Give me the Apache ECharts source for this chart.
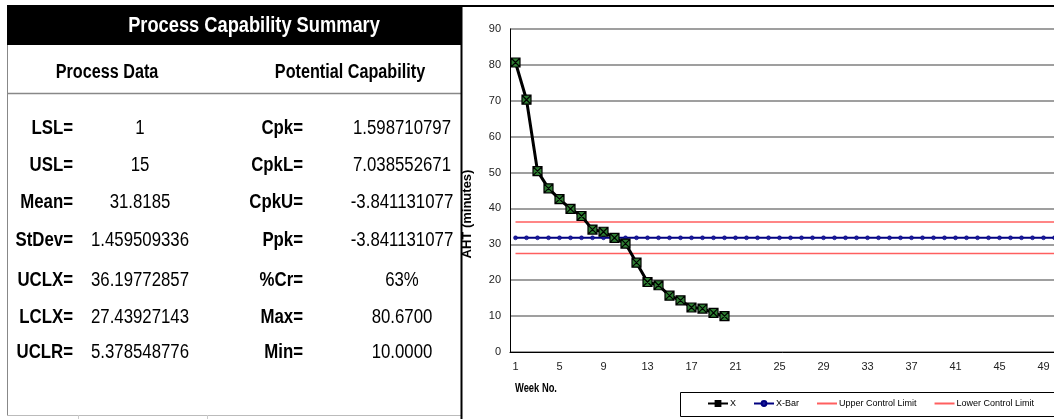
<!DOCTYPE html>
<html>
<head>
<meta charset="utf-8">
<script src="https://cdn.jsdelivr.net/npm/echarts@6/dist/echarts.min.js"></script>
<style>
html,body{margin:0;padding:0;background:#fff;}
#main{width:1054px;height:419px;}
</style>
</head>
<body>
<div id="main"></div>
<script>
// ---------- data ----------
const weeks = ['1','2','3','4','5','6','7','8','9','10','11','12','13','14','15','16','17','18','19','20',
  '21','22','23','24','25','26','27','28','29','30','31','32','33','34','35','36','37','38','39','40',
  '41','42','43','44','45','46','47','48','49','50'];
const xValues = [80.67, 70.3, 50.4, 45.6, 42.6, 39.9, 37.9, 34.1, 33.5, 31.8,
  30.2, 24.9, 19.5, 18.6, 15.7, 14.4, 12.4, 12.1, 10.9, 10.0];
const xBarValues = [31.8185,31.8185,31.8185,31.8185,31.8185,31.8185,31.8185,31.8185,31.8185,31.8185,
  31.8185,31.8185,31.8185,31.8185,31.8185,31.8185,31.8185,31.8185,31.8185,31.8185,
  31.8185,31.8185,31.8185,31.8185,31.8185,31.8185,31.8185,31.8185,31.8185,31.8185,
  31.8185,31.8185,31.8185,31.8185,31.8185,31.8185,31.8185,31.8185,31.8185,31.8185,
  31.8185,31.8185,31.8185,31.8185,31.8185,31.8185,31.8185,31.8185,31.8185,31.8185];
const uclValues = [36.1977,36.1977,36.1977,36.1977,36.1977,36.1977,36.1977,36.1977,36.1977,36.1977,
  36.1977,36.1977,36.1977,36.1977,36.1977,36.1977,36.1977,36.1977,36.1977,36.1977,
  36.1977,36.1977,36.1977,36.1977,36.1977,36.1977,36.1977,36.1977,36.1977,36.1977,
  36.1977,36.1977,36.1977,36.1977,36.1977,36.1977,36.1977,36.1977,36.1977,36.1977,
  36.1977,36.1977,36.1977,36.1977,36.1977,36.1977,36.1977,36.1977,36.1977,36.1977];
const lclValues = [27.4393,27.4393,27.4393,27.4393,27.4393,27.4393,27.4393,27.4393,27.4393,27.4393,
  27.4393,27.4393,27.4393,27.4393,27.4393,27.4393,27.4393,27.4393,27.4393,27.4393,
  27.4393,27.4393,27.4393,27.4393,27.4393,27.4393,27.4393,27.4393,27.4393,27.4393,
  27.4393,27.4393,27.4393,27.4393,27.4393,27.4393,27.4393,27.4393,27.4393,27.4393,
  27.4393,27.4393,27.4393,27.4393,27.4393,27.4393,27.4393,27.4393,27.4393,27.4393];
const seriesNames = ['X', 'X-Bar', 'Upper Control Limit', 'Lower Control Limit'];

const tableTitle = 'Process Capability Summary';
const tableHeaders = ['Process Data', 'Potential Capability'];
const leftLabels = ['LSL=', 'USL=', 'Mean=', 'StDev=', 'UCLX=', 'LCLX=', 'UCLR='];
const leftValues = ['1', '15', '31.8185', '1.459509336', '36.19772857', '27.43927143', '5.378548776'];
const rightLabels = ['Cpk=', 'CpkL=', 'CpkU=', 'Ppk=', '%Cr=', 'Max=', 'Min='];
const rightValues = ['1.598710797', '7.038552671', '-3.841131077', '-3.841131077', '63%', '80.6700', '10.0000'];
const yAxisTitle = 'AHT (minutes)';
const xAxisTitle = 'Week No.';

// ---------- layout ----------
const SANS = '"Liberation Sans", Arial, sans-serif';
const rowY = [128, 165, 202, 240, 280, 317, 352];
const SX = 0.84; // horizontal squeeze to mimic a narrow face

const graphics = [];
// title band
graphics.push({type:'rect', shape:{x:7, y:5, width:455, height:40}, style:{fill:'#000'}, z:1});
graphics.push({type:'line', shape:{x1:7, y1:6, x2:1054, y2:6}, style:{stroke:'#000', lineWidth:2}, z:1});
graphics.push({type:'text', x:254, y:26, scaleX:0.83, style:{text:tableTitle, fill:'#fff', font:'bold 22px ' + SANS, align:'center', verticalAlign:'middle'}, z:2});
// table borders
graphics.push({type:'line', shape:{x1:7.5, y1:45, x2:7.5, y2:415}, style:{stroke:'#888', lineWidth:1}, z:1});
graphics.push({type:'line', shape:{x1:7, y1:93.5, x2:461, y2:93.5}, style:{stroke:'#888', lineWidth:1.5}, z:1});
graphics.push({type:'line', shape:{x1:7, y1:415.5, x2:461, y2:415.5}, style:{stroke:'#bbb', lineWidth:1}, z:1});
graphics.push({type:'line', shape:{x1:78.5, y1:415, x2:78.5, y2:419}, style:{stroke:'#ccc', lineWidth:1}, z:1});
graphics.push({type:'line', shape:{x1:207.5, y1:415, x2:207.5, y2:419}, style:{stroke:'#ccc', lineWidth:1}, z:1});
graphics.push({type:'line', shape:{x1:461.5, y1:5, x2:461.5, y2:419}, style:{stroke:'#000', lineWidth:2}, z:1});
// headers
graphics.push({type:'text', x:107, y:72, scaleX:0.81, style:{text:tableHeaders[0], fill:'#000', font:'bold 20px ' + SANS, align:'center', verticalAlign:'middle'}, z:2});
graphics.push({type:'text', x:350, y:72, scaleX:0.81, style:{text:tableHeaders[1], fill:'#000', font:'bold 20px ' + SANS, align:'center', verticalAlign:'middle'}, z:2});
// rows
for (let i = 0; i < leftLabels.length; i++) {
  graphics.push({type:'text', x:73, y:rowY[i], scaleX:SX, style:{text:leftLabels[i], fill:'#000', font:'bold 20px ' + SANS, align:'right', verticalAlign:'middle'}, z:2});
  graphics.push({type:'text', x:140, y:rowY[i], scaleX:SX, style:{text:leftValues[i], fill:'#000', font:'20px ' + SANS, align:'center', verticalAlign:'middle'}, z:2});
  graphics.push({type:'text', x:303, y:rowY[i], scaleX:SX, style:{text:rightLabels[i], fill:'#000', font:'bold 20px ' + SANS, align:'right', verticalAlign:'middle'}, z:2});
  graphics.push({type:'text', x:402, y:rowY[i], scaleX:SX, style:{text:rightValues[i], fill:'#000', font:'20px ' + SANS, align:'center', verticalAlign:'middle'}, z:2});
}
// axis titles
graphics.push({type:'text', x:467, y:214, rotation:Math.PI/2, style:{text:yAxisTitle, fill:'#000', font:'bold 13px ' + SANS, align:'center', verticalAlign:'middle'}, z:2});
graphics.push({type:'text', x:515, y:388, scaleX:0.72, style:{text:xAxisTitle, fill:'#000', font:'bold 13px ' + SANS, align:'left', verticalAlign:'middle'}, z:2});
// legend box
graphics.push({type:'rect', shape:{x:680.5, y:392.5, width:380, height:24}, style:{fill:'#fff', stroke:'#000', lineWidth:1}, z:0});

const markerPath = 'path://M0,0L10,0L10,10L0,10Z M0,0L10,10 M10,0L0,10';

const chart = echarts.init(document.getElementById('main'), null, {renderer:'canvas'});
chart.setOption({
  backgroundColor: '#fff',
  animation: false,
  grid: {left: 510, top: 29, width: 550, bottom: 67, containLabel: false, outerBoundsMode: 'none'},
  legend: {
    data: [
      {name: seriesNames[0]},
      {name: seriesNames[1]},
      {name: seriesNames[2], itemStyle: {opacity: 0}},
      {name: seriesNames[3], itemStyle: {opacity: 0}}
    ],
    left: 707, top: 399, width: 360, padding: 0,
    itemWidth: 20, itemHeight: 6, itemGap: 17,
    textStyle: {fontFamily: SANS, fontSize: 9, color: '#000', padding: [0, 0, 0, -3]},
    selectedMode: false
  },
  xAxis: {
    type: 'category', data: weeks, boundaryGap: true,
    axisLine: {lineStyle: {color: '#000', width: 1}},
    axisTick: {interval: 1, length: 4, lineStyle: {color: '#000'}},
    axisLabel: {interval: 3, margin: 9, fontFamily: SANS, fontSize: 11, color: '#222'},
    splitLine: {show: false}
  },
  yAxis: {
    type: 'value', min: 0, max: 90, interval: 10,
    axisLine: {show: true, lineStyle: {color: '#000', width: 1}},
    axisTick: {show: false},
    axisLabel: {margin: 9, fontFamily: SANS, fontSize: 11, color: '#222'},
    splitLine: {lineStyle: {color: '#7f7f7f', width: 1.5}}
  },
  series: [
    {name: seriesNames[2], type: 'line', data: uclValues, symbol: 'none', z: 2,
     lineStyle: {color: '#ff5f5f', width: 1.5}, itemStyle: {color: '#ff5f5f'}},
    {name: seriesNames[3], type: 'line', data: lclValues, symbol: 'none', z: 2,
     lineStyle: {color: '#ff5f5f', width: 1.5}, itemStyle: {color: '#ff5f5f'}},
    {name: seriesNames[1], type: 'line', data: xBarValues, symbol: 'circle', symbolSize: 4, showAllSymbol: true, z: 3,
     lineStyle: {color: '#000080', width: 2}, itemStyle: {color: '#1a1a9a', borderColor: '#000080', borderWidth: 0.5}},
    {name: seriesNames[0], type: 'line', data: xValues, symbol: markerPath, symbolSize: 9, showAllSymbol: true, z: 4,
     lineStyle: {color: '#000', width: 3}, itemStyle: {color: '#2e7d32', borderColor: '#000', borderWidth: 1.2}}
  ],
  graphic: graphics
});
</script>
</body>
</html>
